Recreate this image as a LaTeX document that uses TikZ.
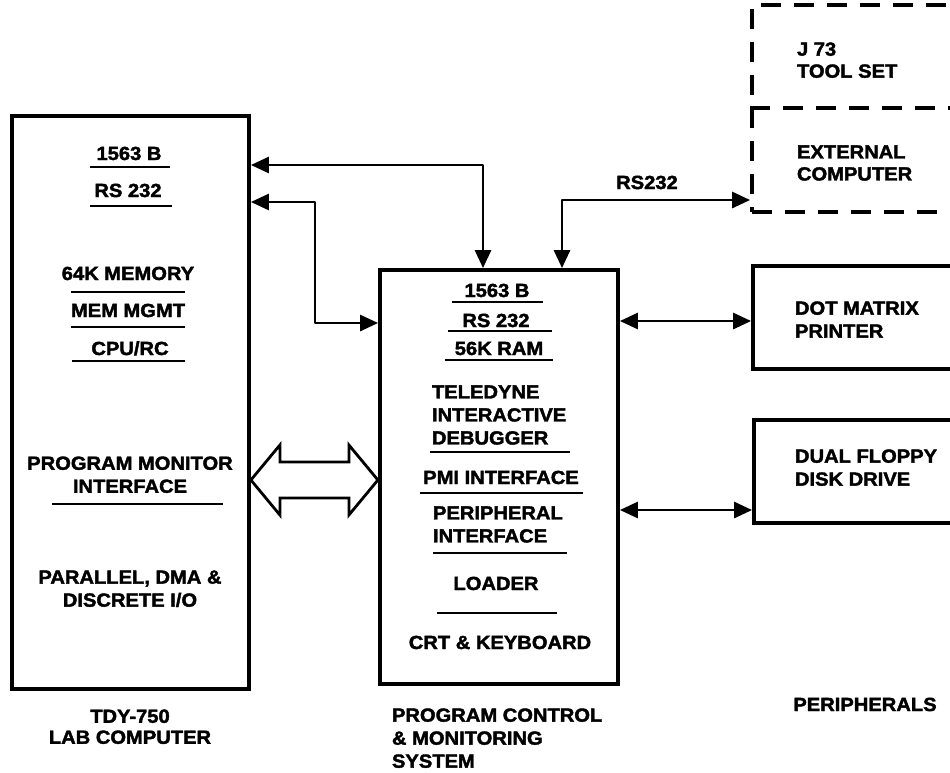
\documentclass[tikz,border=0pt]{standalone}
\usepackage{fontspec}
\setmainfont{Liberation Sans}[FakeStretch=1.06, BoldFeatures={FakeBold=2}]
\usetikzlibrary{arrows.meta}
\newcommand\dgfont{\fontsize{19}{23}\selectfont\bfseries}
\begin{document}
\begin{tikzpicture}[x=1pt,y=-1pt,
  >={Triangle[length=18pt,width=16pt]},
  box/.style={draw, line width=3.8pt, inner sep=0pt},
  dbox/.style={draw, line width=3.8pt, inner sep=0pt, dash pattern=on 20pt off 13pt},
  txt/.style={font=\dgfont, inner sep=0pt, outer sep=0pt},
  one/.style={txt, anchor=base},
  ml/.style={txt, align=left, anchor=north west},
  mc/.style={txt, align=center, anchor=north},
  ul/.style={line width=2.6pt},
  conn/.style={line width=2.8pt, line join=round, <->},
  hollow/.style={line width=2.8pt, line join=miter}]
\useasboundingbox (0,0) rectangle (950,772);
\fill[white] (0,0) rectangle (950,772);
\clip (0,0) rectangle (950,772);

% boxes
\node[box, minimum width=237pt, minimum height=573pt] (lab) at (130.5,402.5) {};
\node[box, minimum width=238pt, minimum height=414pt] (pcm) at (499,477) {};
\node[dbox, minimum width=208pt, minimum height=207pt] (ext) at (856,108.5) {};
\draw[line width=3.8pt, dash pattern=on 20pt off 13pt] (ext.west |- 0,108) -- (ext.east |- 0,108);
\node[box, minimum width=207pt, minimum height=103pt] (prn) at (856.5,317.5) {};
\node[box, minimum width=206pt, minimum height=103pt] (fdd) at (857,471.5) {};

% left box texts
\node[one] (l1) at (129,160) {1563 B};
\draw[ul] (90,167) -- (170,167);
\node[one] (l2) at (128,197) {RS 232};
\draw[ul] (90,206) -- (172,206);
\node[one] (l3) at (128,280) {64K MEMORY};
\draw[ul] (71,292) -- (185,292);
\node[one] (l4) at (128,317) {MEM MGMT};
\draw[ul] (71,327) -- (185,327);
\node[one] (l5) at (130,355) {CPU/RC};
\draw[ul] (72,361) -- (185,361);
\node[mc] (l6) at (130,456.5) {PROGRAM MONITOR\\INTERFACE};
\draw[ul] (52,504) -- (223,504);
\node[mc] (l7) at (130,570.5) {PARALLEL, DMA \&\\DISCRETE I/O};
\node[mc, font=\fontsize{19}{21}\selectfont\bfseries] (labname) at (130,709.5) {TDY-750\\LAB COMPUTER};

% middle box texts
\node[one] (m1) at (497,297) {1563 B};
\draw[ul] (452,302) -- (543,302);
\node[one] (m2) at (496,327) {RS 232};
\draw[ul] (448,331) -- (552,331);
\node[one] (m3) at (499,355) {56K RAM};
\draw[ul] (445,360) -- (553,360);
\node[ml] (m4) at (432,385.4) {TELEDYNE\\INTERACTIVE\\DEBUGGER};
\draw[ul] (430,452) -- (570,452);
\node[one] (m5) at (501,484) {PMI INTERFACE};
\draw[ul] (420,493) -- (583,493);
\node[ml] (m6) at (433,506.4) {PERIPHERAL\\INTERFACE};
\draw[ul] (433,553) -- (567,553);
\node[one] (m7) at (496,590) {LOADER};
\draw[ul] (437,613) -- (557,613);
\node[one] (m8) at (500,649) {CRT \& KEYBOARD};
\node[ml] (pcmname) at (392,708.4) {PROGRAM CONTROL\\\& MONITORING\\SYSTEM};

% right side texts
\node[ml, font=\fontsize{19}{22}\selectfont\bfseries] (e1) at (797,42.4) {J 73\\TOOL SET};
\node[ml, font=\fontsize{19}{22}\selectfont\bfseries] (e2) at (797,145.4) {EXTERNAL\\COMPUTER};
\node[ml] (p1) at (795,301.4) {DOT MATRIX\\PRINTER};
\node[ml] (f1) at (795,449.4) {DUAL FLOPPY\\DISK DRIVE};
\node[one] (perin) at (865,711) {PERIPHERALS};
\node[one] (rsl) at (647,189) {RS232};

% connectors
\coordinate (c1) at (483,165);
\coordinate (c2a) at (315,202);
\coordinate (c2b) at (315,323);
\coordinate (c3) at (562,200);
\coordinate (c4) at (0,321);
\coordinate (c5) at (0,510);
\coordinate (c6) at (0,480);
\draw[conn] (lab.east |- c1) -- (c1) -- (c1 |- pcm.north);
\draw[conn] (lab.east |- c2a) -- (c2a) -- (c2b) -- (pcm.west |- c2b);
\draw[conn] (c3 |- pcm.north) -- (c3) -- (ext.west |- c3);
\draw[conn] (pcm.east |- c4) -- (prn.west |- c4);
\draw[conn] (pcm.east |- c5) -- (fdd.west |- c5);

% hollow double arrow
\coordinate (hl) at (lab.east |- c6);
\draw[hollow] (hl) -- ++(29,-35) -- ++(0,17) -- ++(69,0) -- ++(0,-17) -- ++(29,35)
  -- ++(-29,35) -- ++(0,-17) -- ++(-69,0) -- ++(0,17) -- cycle;
\end{tikzpicture}
\end{document}
